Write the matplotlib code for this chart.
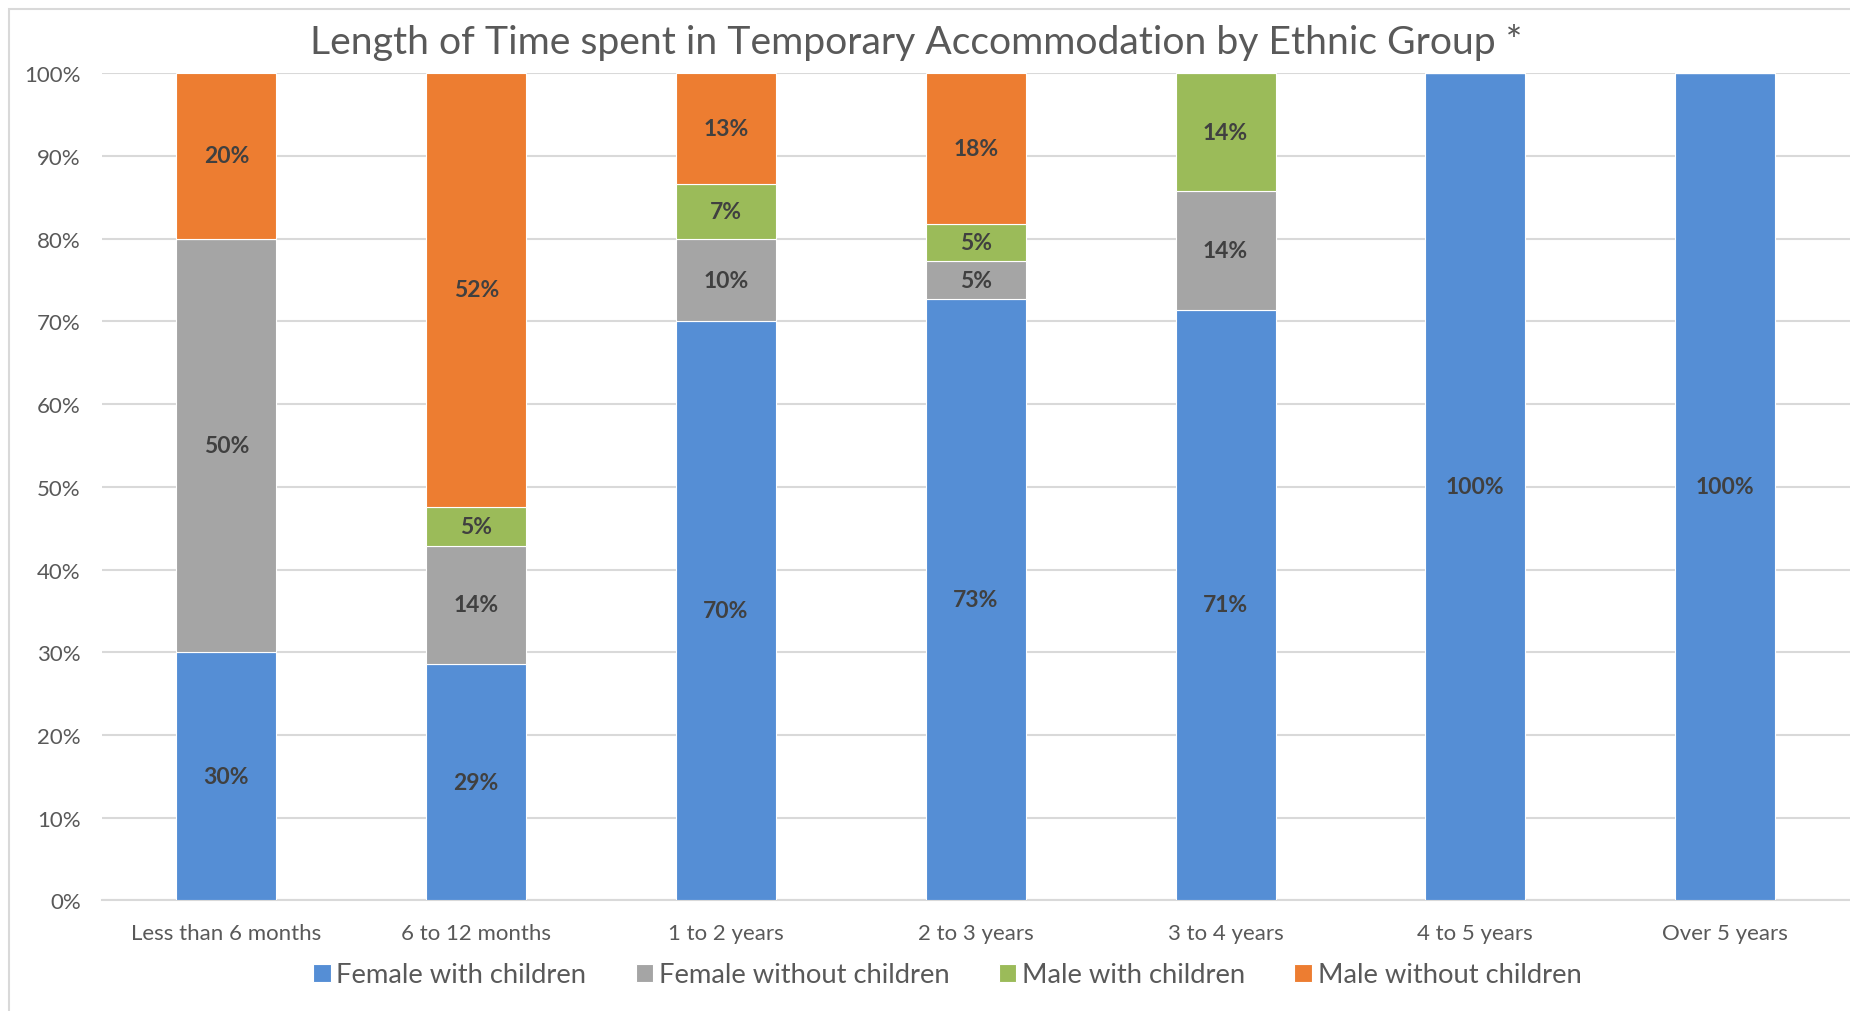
import matplotlib.pyplot as plt
from matplotlib.patches import Rectangle
import numpy as np
import math

# categories and shares (%)
categories = ["Less than 6 months", "6 to 12 months", "1 to 2 years", "2 to 3 years",
              "3 to 4 years", "4 to 5 years", "Over 5 years"]
female_with = [30.0, 28.57, 70.0, 72.73, 71.43, 100.0, 100.0]
female_without = [50.0, 14.29, 10.0, 4.55, 14.29, 0, 0]
male_with = [0, 4.76, 6.67, 4.55, 14.29, 0, 0]
male_without = [20.0, 52.38, 13.33, 18.18, 0, 0, 0]

series_names = ["Female with children", "Female without children",
                "Male with children", "Male without children"]
series = [female_with, female_without, male_with, male_without]
colors = ["#558ED5", "#A5A5A5", "#9BBB59", "#ED7D31"]

plt.rcParams["font.family"] = ["Lato", "DejaVu Sans"]

fig = plt.figure(figsize=(18.5, 10.12), dpi=100)
ax = fig.add_axes([0.0549, 0.1093, 0.9451, 0.8173])

#light frame round the chart like the excel chart area
fig.patches.append(Rectangle((9 / 1850, -0.01), 1.1, 1 - 10 / 1012 + 0.01,
                             transform=fig.transFigure, fill=False,
                             edgecolor="#d9d9d9", linewidth=1.5))

x = np.arange(len(categories))
bottom = np.zeros(len(categories))
for name, vals, col in zip(series_names, series, colors):
    vals = np.array(vals, dtype=float)
    ax.bar(x, vals, 0.4, bottom=bottom, color=col, label=name,
           edgecolor="white", linewidth=0.8, zorder=3)
    for xi, b, v in zip(x, bottom, vals):
        if v > 0:
            #round half up like excel does
            ax.text(xi, b + v / 2, f"{int(math.floor(v + 0.5))}%", ha="center", va="center",
                    fontsize=16.5, fontweight="bold", color="#404040", zorder=4)
    bottom += vals

ax.set_xlim(-0.5, len(categories) - 0.5)
ax.set_ylim(0, 100)
ax.set_yticks(np.arange(0, 101, 10))
ax.set_yticklabels([f"{v}%" for v in range(0, 101, 10)])
ax.set_xticks(x)
ax.set_xticklabels(categories)
ax.tick_params(axis="both", length=0, labelsize=16, labelcolor="#595959")
ax.tick_params(axis="x", pad=16)
ax.tick_params(axis="y", pad=15)
ax.grid(axis="y", color="#d9d9d9", linewidth=1.5, zorder=0)
ax.set_axisbelow(True)
for s in ["top", "right", "left"]:
    ax.spines[s].set_visible(False)
ax.spines["bottom"].set_color("#d9d9d9")
ax.spines["bottom"].set_linewidth(1.5)

fig.text(0.4955, 0.958, "Length of Time spent in Temporary Accommodation by Ethnic Group *",
         ha="center", va="center", fontsize=28.2, color="#595959")

fig.legend(loc="center", bbox_to_anchor=(0.512, 0.0356), ncol=4, frameon=False,
           fontsize=19.7, labelcolor="#595959", handlelength=0.65, handleheight=0.65,
           handletextpad=0.2, columnspacing=1.8)

fig.savefig("out.png", dpi=100)
